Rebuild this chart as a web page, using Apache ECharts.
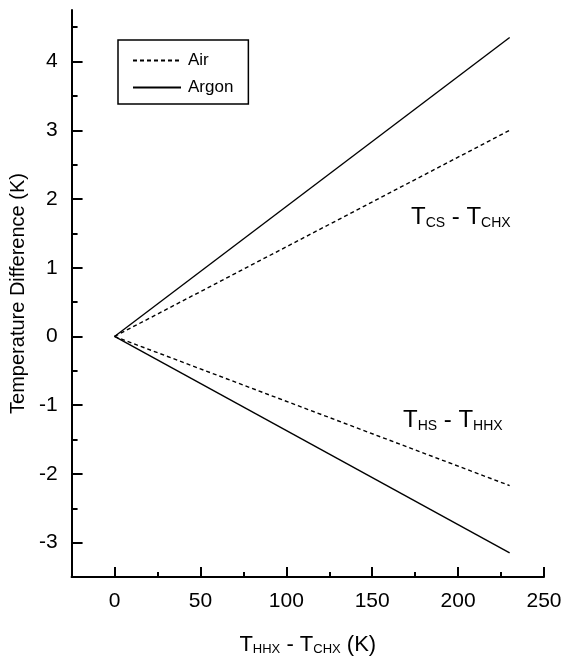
<!DOCTYPE html>
<html>
<head>
<meta charset="utf-8">
<script src="https://cdn.jsdelivr.net/npm/echarts@6/dist/echarts.min.js"></script>
<style>html,body{margin:0;padding:0;background:#fff;}#c{width:566px;height:661px;}</style>
</head>
<body>
<div id="c"></div>
<script>
// Data (x: T_HHX - T_CHX in K, y: temperature difference in K)
const xEnds = [0, 230];
const airCS = [0, 3.0];
const argonCS = [0, 4.35];
const airHS = [0, -2.17];
const argonHS = [0, -3.15];
const xMajorTicks = [0, 50, 100, 150, 200, 250];
const xMinorTicks = [25, 75, 125, 175, 225];
const yMajorTicks = [-3, -2, -1, 0, 1, 2, 3, 4];
const yMinorTicks = [-2.5, -1.5, -0.5, 0.5, 1.5, 2.5, 3.5, 4.5];

const font = 'Liberation Sans, Arial, sans-serif';
const pts = ys => xEnds.map((x, i) => [x, ys[i]]);
const dashed = { color: '#000', width: 1.4, type: [4, 3] };
const solid = { color: '#000', width: 1.4, type: 'solid' };

const chart = echarts.init(document.getElementById('c'));
const baseX = { type: 'value', min: -25, max: 250, position: 'bottom', splitLine: { show: false } };
const baseY = { type: 'value', min: -3.5, max: 4.75, position: 'left', splitLine: { show: false } };
chart.setOption({
  animation: false,
  backgroundColor: '#fff',
  grid: { left: 70, right: 22, top: 10, bottom: 81 },
  xAxis: [
    Object.assign({}, baseX, {
      axisLine: { onZero: false, lineStyle: { color: '#000', width: 2 } },
      axisTick: { inside: true, length: 10, lineStyle: { color: '#000', width: 2 }, customValues: xMajorTicks },
      axisLabel: { color: '#000', fontSize: 21, fontFamily: font, margin: 14, customValues: xMajorTicks },
      name: '{t|T}{s|HHX}{t| - T}{s|CHX}{t| (K)}',
      nameLocation: 'middle', nameGap: 56,
      nameTextStyle: { rich: {
        t: { fontSize: 22, fontFamily: font, color: '#000' },
        s: { fontSize: 13, fontFamily: font, color: '#000', padding: [10, 0, 0, 0] }
      } }
    }),
    Object.assign({}, baseX, {
      axisLine: { show: false, onZero: false },
      axisTick: { inside: true, length: 5, lineStyle: { color: '#000', width: 2 }, customValues: xMinorTicks },
      axisLabel: { show: false }
    })
  ],
  yAxis: [
    Object.assign({}, baseY, {
      axisLine: { onZero: false, lineStyle: { color: '#000', width: 2 } },
      axisTick: { inside: true, length: 11, lineStyle: { color: '#000', width: 2 }, customValues: yMajorTicks },
      axisLabel: { color: '#000', fontSize: 21, fontFamily: font, margin: 14, customValues: yMajorTicks },
      name: 'Temperature Difference (K)',
      nameLocation: 'middle', nameGap: 42,
      nameTextStyle: { color: '#000', fontSize: 20, fontFamily: font }
    }),
    Object.assign({}, baseY, {
      axisLine: { show: false, onZero: false },
      axisTick: { inside: true, length: 6, lineStyle: { color: '#000', width: 2 }, customValues: yMinorTicks },
      axisLabel: { show: false }
    })
  ],
  legend: {
    show: true,
    orient: 'vertical', left: 118, top: 40,
    data: ['Air', 'Argon'],
    itemWidth: 48, itemHeight: 14, itemGap: 10,
    padding: [12, 15, 8, 14],
    borderColor: '#000', borderWidth: 1.5,
    itemStyle: { opacity: 0 },
    textStyle: { color: '#000', fontSize: 17, fontFamily: font, padding: [0, 0, 0, 2] }
  },
  series: [
    { name: 'Air', type: 'line', data: pts(airCS), symbol: 'none', lineStyle: dashed, itemStyle: { color: '#000' } },
    { name: 'Argon', type: 'line', data: pts(argonCS), symbol: 'none', lineStyle: solid, itemStyle: { color: '#000' } },
    { name: 'Air', type: 'line', data: pts(airHS), symbol: 'none', lineStyle: dashed, itemStyle: { color: '#000' } },
    { name: 'Argon', type: 'line', data: pts(argonHS), symbol: 'none', lineStyle: solid, itemStyle: { color: '#000' } }
  ],
  graphic: [
    { type: 'text', left: 411, top: 205, style: {
      text: '{t|T}{s|CS}{t| - T}{s|CHX}',
      rich: { t: { fontSize: 24, fontFamily: font, fill: '#000' }, s: { fontSize: 14, fontFamily: font, fill: '#000', padding: [12, 0, 0, 0] } }
    } },
    { type: 'text', left: 403, top: 408, style: {
      text: '{t|T}{s|HS}{t| - T}{s|HHX}',
      rich: { t: { fontSize: 24, fontFamily: font, fill: '#000' }, s: { fontSize: 14, fontFamily: font, fill: '#000', padding: [12, 0, 0, 0] } }
    } }
  ]
});
</script>
</body>
</html>
